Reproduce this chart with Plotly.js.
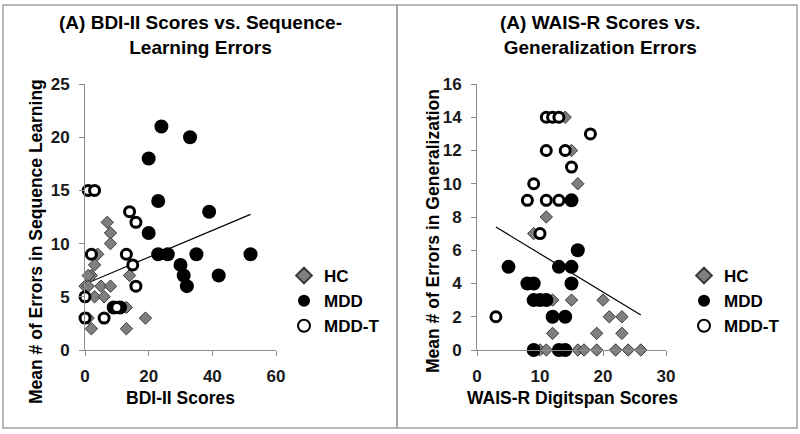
<!DOCTYPE html>
<html>
<head>
<meta charset="utf-8">
<script src="https://cdn.plot.ly/plotly-3.0.1.min.js"></script>
<style>html,body{margin:0;padding:0;background:#fff}#chart{width:800px;height:434px}</style>
</head>
<body>
<div id="chart"></div>
<script>
// ---- Panel A (left): BDI-II scores vs sequence-learning errors ----
const hcBdi   = [7, 8, 8, 4, 3, 2, 1, 14, 0, 1, 5, 8, 3, 6, 13, 1, 19, 2, 13];
const hcSeq   = [12, 11, 10, 9, 8, 7, 7, 7, 6, 6, 6, 6, 5, 5, 4, 3, 3, 2, 2];
const mddBdi  = [24, 33, 20, 23, 39, 20, 23, 26, 35, 52, 30, 31, 42, 32, 9, 11];
const mddSeq  = [21, 20, 18, 14, 13, 11, 9, 9, 9, 9, 8, 7, 7, 6, 4, 4];
const mddtBdi = [1, 3, 14, 16, 2, 13, 15, 16, 0, 10, 0, 6];
const mddtSeq = [15, 15, 13, 12, 9, 9, 8, 6, 5, 4, 3, 3];
const trendBdiX = [0, 52];
const trendBdiY = [6.2, 12.75];

// ---- Panel B (right): WAIS-R digit span vs generalization errors ----
const hcWais   = [14, 15, 16, 11, 9, 12, 15, 20, 21, 23, 12, 19, 23, 10, 11, 16, 17, 19, 22, 24, 26];
const hcGen    = [14, 12, 10, 8, 7, 3, 3, 3, 2, 2, 1, 1, 1, 0, 0, 0, 0, 0, 0, 0, 0];
const mddWais  = [15, 16, 5, 13, 15, 8, 9, 15, 9, 10, 11, 12, 14, 9, 13, 14];
const mddGen   = [9, 6, 5, 5, 5, 4, 4, 4, 3, 3, 3, 2, 2, 0, 0, 0];
const mddtWais = [11, 12, 13, 18, 11, 14, 15, 9, 8, 11, 13, 10, 3];
const mddtGen  = [14, 14, 14, 13, 12, 12, 11, 10, 9, 9, 9, 7, 2];
const trendWaisX = [3, 26];
const trendWaisY = [7.4, 2.1];

const groupNames = ['HC', 'MDD', 'MDD-T'];
const leftXTicks = [0, 20, 40, 60];
const leftYTicks = [0, 5, 10, 15, 20, 25];
const rightXTicks = [0, 10, 20, 30];
const rightYTicks = [0, 2, 4, 6, 8, 10, 12, 14, 16];

const W = 800, H = 434;
const px = v => v / W;
const py = v => (H - v) / H;

const FONT = 'Liberation Sans, Arial, sans-serif';
const hcMarker = {symbol: 'diamond', size: 9.5, color: '#7f7f7f', line: {color: '#3a3a3a', width: 1}};
const mddMarker = {symbol: 'circle', size: 14, color: '#000000', line: {color: '#000', width: 0}};
const mddtMarker = {symbol: 'circle', size: 10, color: '#ffffff', line: {color: '#000000', width: 3}};

function panelTraces(xa, ya, leg, hx, hy, mx, my, tx, ty, lx, ly) {
  return [
    {x: lx, y: ly, xaxis: xa, yaxis: ya, type: 'scatter', mode: 'lines',
     line: {color: '#000', width: 1.2}, showlegend: false, hoverinfo: 'skip', cliponaxis: false},
    {x: hx, y: hy, xaxis: xa, yaxis: ya, type: 'scatter', mode: 'markers', name: groupNames[0],
     marker: hcMarker, legend: leg, legendgroup: leg + 'a', cliponaxis: false},
    {x: mx, y: my, xaxis: xa, yaxis: ya, type: 'scatter', mode: 'markers', name: groupNames[1],
     marker: mddMarker, legend: leg, legendgroup: leg + 'b', cliponaxis: false},
    {x: tx, y: ty, xaxis: xa, yaxis: ya, type: 'scatter', mode: 'markers', name: groupNames[2],
     marker: mddtMarker, legend: leg, legendgroup: leg + 'c', cliponaxis: false}
  ];
}

const data = [].concat(
  panelTraces('x', 'y', 'legend', hcBdi, hcSeq, mddBdi, mddSeq, mddtBdi, mddtSeq, trendBdiX, trendBdiY),
  panelTraces('x2', 'y2', 'legend2', hcWais, hcGen, mddWais, mddGen, mddtWais, mddtGen, trendWaisX, trendWaisY)
);

const tickFont = {family: FONT, size: 17, color: '#1a1a1a', weight: 'bold'};
function axis(domain, range, vals, anchor) {
  return {
    domain: domain, range: range, tickvals: vals, ticktext: vals.map(String),
    showgrid: false, zeroline: false, showline: true, linecolor: '#8c8c8c', linewidth: 1,
    ticks: 'outside', ticklen: 5, tickcolor: '#8c8c8c', tickwidth: 1,
    tickfont: tickFont, anchor: anchor, fixedrange: true, ticklabelstandoff: 6
  };
}

const legendBase = {
  font: {family: FONT, size: 17, color: '#000', weight: 'bold'},
  bgcolor: 'rgba(0,0,0,0)', borderwidth: 0, tracegroupgap: 0,
  itemsizing: 'constant', xanchor: 'left', yanchor: 'top', itemclick: false
};

const titleFont = {family: FONT, size: 19, color: '#000', weight: 'bold'};
const axTitleFont = {family: FONT, size: 17.5, color: '#000', weight: 'bold'};

const layout = {
  width: W, height: H,
  margin: {l: 0, r: 0, t: 0, b: 0},
  paper_bgcolor: '#ffffff', plot_bgcolor: '#ffffff',
  xaxis: axis([px(85), px(276)], [0, 60], leftXTicks, 'y'),
  yaxis: axis([py(350), py(84)], [0, 25], leftYTicks, 'x'),
  xaxis2: axis([px(477), px(666)], [0, 30], rightXTicks, 'y2'),
  yaxis2: axis([py(350), py(84)], [0, 16], rightYTicks, 'x2'),
  legend: Object.assign({}, legendBase, {x: px(284), y: py(258)}),
  legend2: Object.assign({}, legendBase, {x: px(684), y: py(258)}),
  shapes: [
    {type: 'rect', xref: 'paper', yref: 'paper', x0: px(3), x1: px(397), y0: py(428), y1: py(5),
     line: {color: '#a0a0a0', width: 1.5}},
    {type: 'rect', xref: 'paper', yref: 'paper', x0: px(397), x1: px(797), y0: py(428), y1: py(5),
     line: {color: '#a0a0a0', width: 1.5}}
  ],
  annotations: [
    {xref: 'paper', yref: 'paper', x: px(201), y: py(35), xanchor: 'center', yanchor: 'middle',
     text: '(A) BDI-II Scores vs. Sequence-<br>Learning Errors', showarrow: false, font: titleFont},
    {xref: 'paper', yref: 'paper', x: px(600), y: py(35), xanchor: 'center', yanchor: 'middle',
     text: '(A) WAIS-R Scores vs.<br>Generalization Errors', showarrow: false, font: titleFont},
    {xref: 'paper', yref: 'paper', x: px(180), y: py(398), xanchor: 'center', yanchor: 'middle',
     text: 'BDI-II Scores', showarrow: false, font: axTitleFont},
    {xref: 'paper', yref: 'paper', x: px(572), y: py(398), xanchor: 'center', yanchor: 'middle',
     text: 'WAIS-R Digitspan Scores', showarrow: false, font: axTitleFont},
    {xref: 'paper', yref: 'paper', x: px(36), y: py(242), xanchor: 'center', yanchor: 'middle',
     text: 'Mean # of Errors in Sequence Learning', textangle: -90, showarrow: false, font: axTitleFont},
    {xref: 'paper', yref: 'paper', x: px(433), y: py(231), xanchor: 'center', yanchor: 'middle',
     text: 'Mean # of Errors in Generalization', textangle: -90, showarrow: false, font: axTitleFont}
  ],
  showlegend: true
};

Plotly.newPlot('chart', data, layout, {staticPlot: true, displayModeBar: false});
</script>
</body>
</html>
